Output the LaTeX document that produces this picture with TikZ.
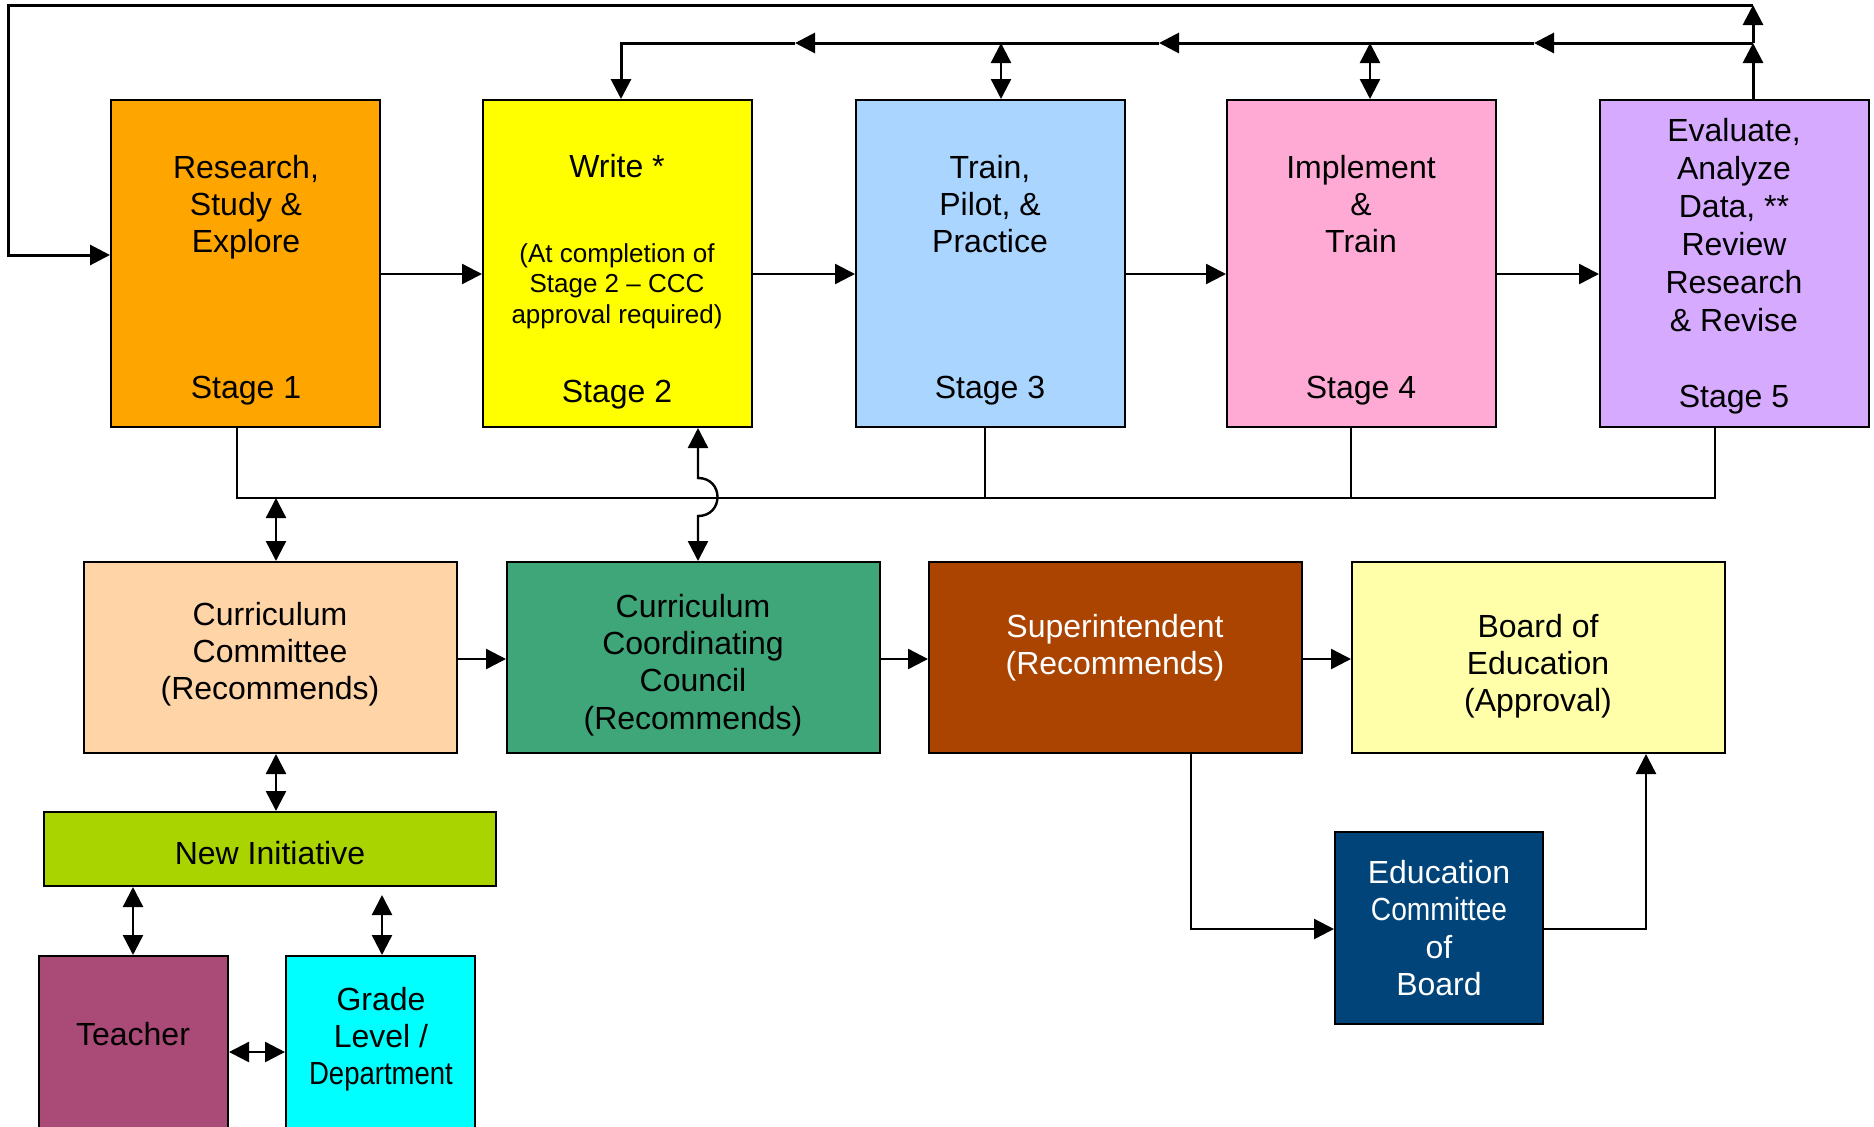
\documentclass[tikz,border=0pt]{standalone}
\usepackage{fontspec}
\usepackage{graphicx}
\setmainfont{Liberation Sans}
\usetikzlibrary{arrows.meta,fit}
\definecolor{cOne}{HTML}{FFA500}
\definecolor{cTwo}{HTML}{FFFF00}
\definecolor{cThree}{HTML}{A9D5FF}
\definecolor{cFour}{HTML}{FFAAD5}
\definecolor{cFive}{HTML}{D5AAFF}
\definecolor{cCC}{HTML}{FFD5A8}
\definecolor{cCCC}{HTML}{3FA67A}
\definecolor{cSup}{HTML}{AA4400}
\definecolor{cBoard}{HTML}{FFFFAA}
\definecolor{cNI}{HTML}{AAD400}
\definecolor{cTeach}{HTML}{AA4A77}
\definecolor{cGrade}{HTML}{00FFFF}
\definecolor{cEdc}{HTML}{00447A}
\begin{document}
\begin{tikzpicture}[x=0.5pt,y=-0.5pt,
  >={Triangle[length=10pt,width=10pt]},
  box/.style={draw=black,line width=1pt,inner sep=0pt},
  txt/.style={font=\fontsize{16}{18.6}\selectfont,align=center,inner sep=0pt},
  smalltxt/.style={font=\fontsize{13}{15.2}\selectfont,align=center,inner sep=0pt},
  conn/.style={draw=black,line width=1.2pt},
  heavy/.style={draw=black,line width=1.5pt},
  busline/.style={draw=black,line width=1pt}]
\useasboundingbox (0,0) rectangle (1874,1126);
% stage boxes
\node[box,fill=cOne,fit={(111,100) (380,427)}] (s1) {};
\node[box,fill=cTwo,fit={(483,100) (752,427)}] (s2) {};
\node[box,fill=cThree,fit={(856,100) (1125,427)}] (s3) {};
\node[box,fill=cFour,fit={(1227,100) (1496,427)}] (s4) {};
\node[box,fill=cFive,fit={(1600,100) (1869,427)}] (s5) {};
\node[txt] (s1t) at (246,207) {Research,\\Study \&\\Explore};
\node[txt] (s1s) at (246,391) {Stage 1};
\node[txt] (s2t) at (617,166) {Write *};
\node[smalltxt] (s2n) at (617,286) {(At completion of\\Stage 2 – CCC\\approval required)};
\node[txt] (s2s) at (617,395) {Stage 2};
\node[txt] (s3t) at (990,204) {Train,\\Pilot, \&\\Practice};
\node[txt] (s3s) at (990,391) {Stage 3};
\node[txt] (s4t) at (1361,204) {Implement\\\&\\Train};
\node[txt] (s4s) at (1361,391) {Stage 4};
\node[txt,font=\fontsize{16}{19}\selectfont] (s5t) at (1734,225) {Evaluate,\\Analyze\\Data, **\\Review\\Research\\\& Revise};
\node[txt] (s5s) at (1734,400) {Stage 5};
% second row
\node[box,fill=cCC,fit={(84,562) (457,753)}] (cc) {};
\node[txt] at (270,654) (cct) {Curriculum\\Committee\\(Recommends)};
\node[box,fill=cCCC,fit={(507,562) (880,753)}] (ccc) {};
\node[txt] at (693,665) (ccct) {Curriculum\\Coordinating\\Council\\(Recommends)};
\node[box,fill=cSup,fit={(929,562) (1302,753)}] (sup) {};
\node[txt,text=white] at (1115,648) (supt) {Superintendent\\(Recommends)};
\node[box,fill=cBoard,fit={(1352,562) (1725,753)}] (board) {};
\node[txt] at (1538,666) (boardt) {Board of\\Education\\(Approval)};
% lower boxes
\node[box,fill=cNI,fit={(44,812) (496,886)}] (ni) {};
\node[txt] at (270,853) (nit) {New Initiative};
\node[box,fill=cTeach,fit={(39,956) (228,1140)}] (teacher) {};
\node[txt] at (133,1034) (teachert) {Teacher};
\node[box,fill=cGrade,fit={(286,956) (475,1140)}] (grade) {};
\node[txt] at (381,1039) (gradet) {Grade\\Level /\\\scalebox{0.86}[1]{Department}};
\node[box,fill=cEdc,fit={(1335,832) (1543,1024)}] (edc) {};
\node[txt,text=white] at (1439,928) (edct) {Education\\\scalebox{0.88}[1]{Committee}\\of\\Board};
% coordinates
\coordinate (j5) at (1753,43);
\coordinate (tr) at (1753,5);
\coordinate (tl) at (8,5);
\coordinate (bl) at (8,255);
\coordinate (a1) at (1534,43);
\coordinate (a2) at (1159,43);
\coordinate (a3) at (795,43);
\coordinate (k2) at (621,43);
\coordinate (k3) at (1001,43);
\coordinate (k4) at (1370,43);
\coordinate (hl) at (0,274);
\coordinate (bus) at (0,498);
\coordinate (d1) at (237,0);
\coordinate (d3) at (985,0);
\coordinate (d4) at (1351,0);
\coordinate (d5) at (1715,0);
\coordinate (d0) at (276,0);
\coordinate (d2) at (698,0);
\coordinate (h1) at (698,478);
\coordinate (h2) at (698,516);
\coordinate (r2) at (0,659);
\coordinate (r3) at (0,929);
\coordinate (d6) at (1191,0);
\coordinate (d7) at (1646,0);
\coordinate (d8) at (133,0);
\coordinate (d9) at (382,0);
\coordinate (r4) at (0,1052);
% top feedback loops
\draw[heavy,->] (j5 |- s5.north) -- (j5);
\draw[heavy,->] (j5) -- (tr);
\draw[heavy,->] (tr) -- (tl) -- (bl) -- (bl -| s1.west);
\draw[heavy,->] (j5) -- (a1);
\draw[heavy,->] (a1) -- (a2);
\draw[heavy,->] (a2) -- (a3);
\draw[heavy,->] (a3) -- (k2) -- (k2 |- s2.north);
\draw[conn,<->] (k3) -- (k3 |- s3.north);
\draw[conn,<->] (k4) -- (k4 |- s4.north);
% stage flow
\draw[conn,->] (s1.east |- hl) -- (s2.west |- hl);
\draw[conn,->] (s2.east |- hl) -- (s3.west |- hl);
\draw[conn,->] (s3.east |- hl) -- (s4.west |- hl);
\draw[conn,->] (s4.east |- hl) -- (s5.west |- hl);
% bus
\draw[busline] (d1 |- s1.south) -- (d1 |- bus) -- (d5 |- bus) -- (d5 |- s5.south);
\draw[busline] (d3 |- s3.south) -- (d3 |- bus);
\draw[busline] (d4 |- s4.south) -- (d4 |- bus);
\draw[conn,<->] (d0 |- bus) -- (d0 |- cc.north);
\draw[conn,<->] (d2 |- s2.south) -- (h1) .. controls (724,478) and (724,516) .. (h2) -- (d2 |- ccc.north);
% second row flow
\draw[conn,->] (cc.east |- r2) -- (ccc.west |- r2);
\draw[conn,->] (ccc.east |- r2) -- (sup.west |- r2);
\draw[conn,->] (sup.east |- r2) -- (board.west |- r2);
\draw[conn,->] (d6 |- sup.south) -- (d6 |- r3) -- (edc.west |- r3);
\draw[conn,->] (edc.east |- r3) -- (d7 |- r3) -- (d7 |- board.south);
% lower links
\draw[conn,<->] (d0 |- cc.south) -- (d0 |- ni.north);
\draw[conn,<->] (d8 |- ni.south) -- (d8 |- teacher.north);
\draw[conn,<->,shorten <=4pt] (d9 |- ni.south) -- (d9 |- grade.north);
\draw[conn,<->] (teacher.east |- r4) -- (grade.west |- r4);
\end{tikzpicture}
\end{document}
